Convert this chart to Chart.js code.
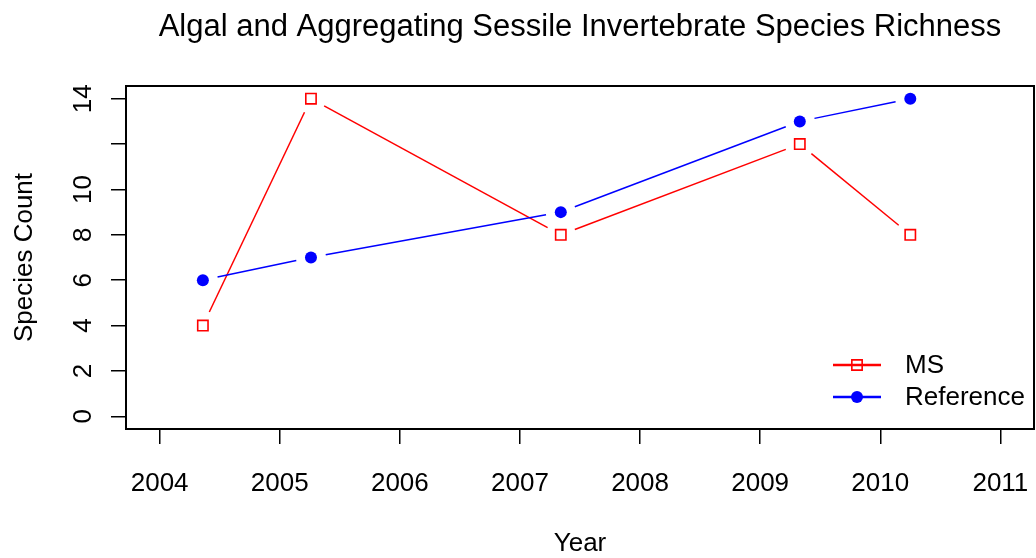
<!DOCTYPE html>
<html>
<head>
<meta charset="utf-8">
<script src="https://cdn.jsdelivr.net/npm/chart.js@4.4.1/dist/chart.umd.min.js"></script>
<style>
html, body { margin: 0; padding: 0; background: #fff; }
#wrap { width: 1036px; height: 558px; }
</style>
</head>
<body>
<div id="wrap"><canvas id="chart" width="1036" height="558"></canvas></div>
<script>
// sampling dates as decimal years
var years = [2004.36, 2005.26, 2007.34, 2009.33, 2010.25];
var msCounts = [4, 14, 8, 12, 8];
var refCounts = [6, 7, 9, 13, 14];
var seriesNames = ['MS', 'Reference'];

var xTicks = [2004, 2005, 2006, 2007, 2008, 2009, 2010, 2011];
var yTicks = [0, 2, 4, 6, 8, 10, 12, 14];
var yTickLabels = ['0', '2', '4', '6', '8', '10', '', '14'];

var FONT = '"Liberation Sans", Arial, Helvetica, sans-serif';
Chart.defaults.font.family = FONT;
Chart.defaults.color = '#000';

function pts(xs, ys) {
	var out = [];
	for (var i = 0; i < xs.length; i++) out.push({x: xs[i], y: ys[i]});
	return out;
}

// R style type="b": segments with a gap round each point
var gapLines = {
	id: 'gapLines',
	beforeDatasetsDraw: function(chart) {
		var ctx = chart.ctx;
		var gap = 15;
		chart.data.datasets.forEach(function(ds, di) {
			var els = chart.getDatasetMeta(di).data;
			ctx.save();
			ctx.strokeStyle = ds.borderColor;
			ctx.lineWidth = 1.5;
			for (var i = 1; i < els.length; i++) {
				var a = els[i - 1], b = els[i];
				var dx = b.x - a.x, dy = b.y - a.y;
				var len = Math.sqrt(dx * dx + dy * dy);
				if (len <= 2 * gap) continue;
				var ux = dx / len, uy = dy / len;
				ctx.beginPath();
				ctx.moveTo(a.x + ux * gap, a.y + uy * gap);
				ctx.lineTo(b.x - ux * gap, b.y - uy * gap);
				ctx.stroke();
			}
			ctx.restore();
		});
	}
};

var boxAndLegend = {
	id: 'boxAndLegend',
	afterDraw: function(chart) {
		var ctx = chart.ctx;
		var area = chart.chartArea;
		ctx.save();
		ctx.strokeStyle = '#000';
		ctx.lineWidth = 2;
		ctx.strokeRect(area.left, area.top, area.right - area.left, area.bottom - area.top);

		// legend, bottom right inside the box
		var lx0 = area.right - 201, lx1 = area.right - 153, mx = area.right - 177, tx = area.right - 129;
		ctx.font = '26px ' + FONT;
		ctx.textBaseline = 'middle';
		ctx.textAlign = 'left';
		chart.data.datasets.forEach(function(ds, di) {
			var y = area.bottom - 64 + di * 32;
			ctx.strokeStyle = ds.borderColor;
			ctx.lineWidth = 2.5;
			ctx.beginPath();
			ctx.moveTo(lx0, y);
			ctx.lineTo(lx1, y);
			ctx.stroke();
			ctx.fillStyle = ds.pointBackgroundColor;
			ctx.lineWidth = 1.6;
			Chart.helpers.drawPoint(ctx, {
				pointStyle: ds.pointStyle,
				radius: ds.pointRadius,
				borderWidth: ds.pointBorderWidth,
				rotation: 0
			}, mx, y);
			ctx.fillStyle = '#000';
			ctx.fillText(ds.label, tx, y + 1);
		});
		ctx.restore();
	}
};

var ctx = document.getElementById('chart').getContext('2d');
var chart = new Chart(ctx, {
	type: 'scatter',
	data: {
		datasets: [
			{
				label: seriesNames[0],
				data: pts(years, msCounts),
				showLine: false,
				borderColor: '#ff0000',
				pointStyle: 'rect',
				pointRadius: 7.3,
				pointBorderWidth: 1.6,
				pointBorderColor: '#ff0000',
				pointBackgroundColor: 'rgba(255,255,255,0)'
			},
			{
				label: seriesNames[1],
				data: pts(years, refCounts),
				showLine: false,
				borderColor: '#0000ff',
				pointStyle: 'circle',
				pointRadius: 6,
				pointBorderWidth: 0,
				pointBorderColor: '#0000ff',
				pointBackgroundColor: '#0000ff'
			}
		]
	},
	options: {
		responsive: false,
		animation: false,
		events: [],
		layout: { autoPadding: false, padding: { left: 0, right: 2, top: 0, bottom: 0 } },
		plugins: {
			legend: { display: false },
			tooltip: { enabled: false },
			title: {
				display: true,
				fullSize: false,
				text: 'Algal and Aggregating Sessile Invertebrate Species Richness',
				color: '#000',
				font: { size: 31, weight: 'normal' },
				padding: { top: 9, bottom: 39.8 }
			}
		},
		scales: {
			x: {
				type: 'linear',
				min: 2003.72,
				max: 2011.28,
				afterBuildTicks: function(s) { s.ticks = xTicks.map(function(v) { return {value: v}; }); },
				afterFit: function(s) { s.height = 129; s.paddingLeft = 0; s.paddingRight = 0; },
				border: { display: false },
				grid: { drawOnChartArea: false, drawTicks: true, tickLength: 15, color: '#000', lineWidth: 1.5 },
				ticks: {
					autoSkip: false, maxRotation: 0, minRotation: 0,
					padding: 24, color: '#000', font: { size: 26 },
					callback: function(v) { return String(v); }
				},
				title: { display: true, text: 'Year', color: '#000', font: { size: 26 }, padding: { top: 0, bottom: -1 } }
			},
			y: {
				type: 'linear',
				min: -0.56,
				max: 14.56,
				afterBuildTicks: function(s) { s.ticks = yTicks.map(function(v) { return {value: v}; }); },
				afterFit: function(s) { s.width = 126; s.paddingTop = 0; s.paddingBottom = 0; },
				border: { display: false },
				grid: { drawOnChartArea: false, drawTicks: true, tickLength: 15, color: '#000', lineWidth: 1.5 },
				ticks: {
					autoSkip: false, minRotation: 90, maxRotation: 90, crossAlign: 'center',
					padding: 13, color: '#000', font: { size: 26 },
					callback: function(v, i) { return yTickLabels[i]; }
				},
				title: { display: true, text: 'Species Count', color: '#000', font: { size: 26 }, padding: { top: 9, bottom: 0 } }
			}
		}
	},
	plugins: [gapLines, boxAndLegend]
});
</script>
</body>
</html>
